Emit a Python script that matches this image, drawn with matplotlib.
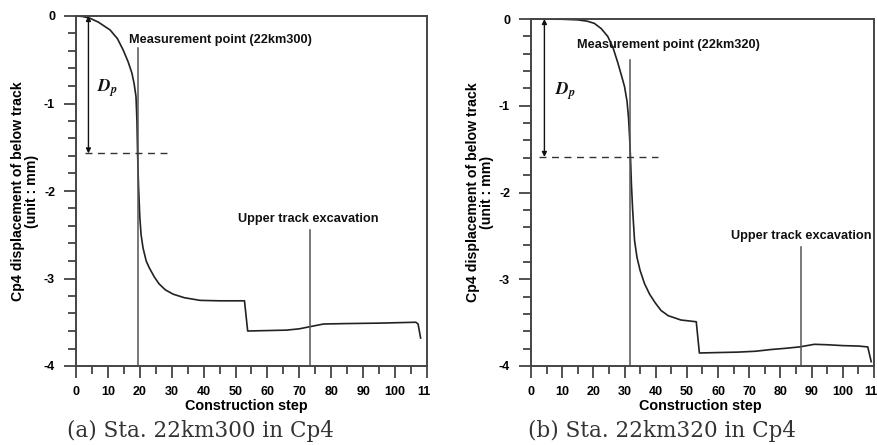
import numpy as np
import matplotlib
matplotlib.use('Agg')
import matplotlib.pyplot as plt
from matplotlib.transforms import ScaledTranslation

# %% data
a_x = [0, 2, 4.4, 7, 10.7, 13, 14.8, 16.3, 17.5, 18.2, 18.8, 19.1, 19.3, 19.6, 20,
       20.4, 21, 22, 23, 24.5, 26, 28, 30.5, 34, 38.9, 45, 52.8, 53.8, 60, 66,
       70, 73.4, 77.6, 85, 95, 106.5, 107.2, 108]
a_y = [0, -0.005, -0.026, -0.07, -0.16, -0.26, -0.39, -0.52, -0.65, -0.77, -0.92,
       -1.2, -1.57, -1.95, -2.3, -2.5, -2.65, -2.8, -2.88, -2.98, -3.06, -3.13,
       -3.18, -3.22, -3.25, -3.255, -3.255, -3.6, -3.595, -3.59, -3.575, -3.55,
       -3.52, -3.515, -3.51, -3.5, -3.52, -3.68]

b_x = [0, 10, 15, 18, 20.3, 22.5, 24.6, 26.3, 27.8, 29, 30, 30.8, 31.3, 31.6, 31.9,
       32.2, 32.6, 33.2, 34, 35, 36.4, 38, 39.8, 41.7, 44, 48.1, 53, 54, 60, 66.3,
       72, 77, 82, 86.1, 88.5, 90.9, 95, 100, 105, 108, 109.1]
b_y = [0, -0.003, -0.01, -0.025, -0.05, -0.11, -0.2, -0.33, -0.5, -0.65, -0.78,
       -0.95, -1.15, -1.35, -1.59, -1.9, -2.2, -2.55, -2.75, -2.9, -3.05, -3.17,
       -3.27, -3.36, -3.42, -3.47, -3.49, -3.85, -3.845, -3.84, -3.83, -3.81,
       -3.795, -3.78, -3.765, -3.75, -3.755, -3.765, -3.77, -3.78, -3.95]

panels = [
    {
        'x': a_x, 'y': a_y,
        'pos': [76 / 878, 79 / 445, 351 / 878, 350 / 445],
        'meas_x': 19.3, 'meas_top': -0.37, 'meas_label': 'Measurement point (22km300)',
        'meas_text': (16.7, -0.27),
        'exc_x': 73.4, 'exc_top': -2.45, 'exc_text': (50.7, -2.32),
        'dp': -1.57, 'dash_x': (2.8, 28.4), 'arrow_x': 3.9, 'dp_text': (6.6, -0.83),
        'caption': '(a) Sta. 22km300 in Cp4', 'cap_x': 200 / 878, 'xlab_x': 0.484,
    },
    {
        'x': b_x, 'y': b_y,
        'pos': [531 / 878, 79 / 445, 343 / 878, 347 / 445],
        'meas_x': 31.9, 'meas_top': -0.47, 'meas_label': 'Measurement point (22km320)',
        'meas_text': (14.8, -0.3),
        'exc_x': 86.6, 'exc_top': -2.63, 'exc_text': (64.2, -2.5),
        'dp': -1.59, 'dash_x': (2.7, 40.6), 'arrow_x': 4.3, 'dp_text': (7.7, -0.83),
        'caption': '(b) Sta. 22km320 in Cp4', 'cap_x': 662 / 878, 'xlab_x': 0.493,
    },
]

xticks = np.arange(0, 111, 10)
# the last label is cut to "11" in the source
xticklabels = [str(v) for v in xticks[:-1]] + ['11']
yticks = [0, -1, -2, -3, -4]

plt.rcParams['font.family'] = 'Liberation Sans'
plt.rcParams['font.weight'] = 'bold'

fig = plt.figure(figsize=(8.78, 4.45), dpi=100)

for p in panels:
    ax = fig.add_axes(p['pos'])
    ax.plot(p['x'], p['y'], color='#222222', lw=1.2)

    # vertical marker lines
    ax.plot([p['meas_x'], p['meas_x']], [p['meas_top'], -4], color='#555555', lw=1.1)
    ax.plot([p['exc_x'], p['exc_x']], [p['exc_top'], -4], color='#555555', lw=1.1)
    ax.text(*p['meas_text'], p['meas_label'], fontsize=9.2, fontweight='bold',
            color='#111111', va='center')
    ax.text(*p['exc_text'], 'Upper track excavation', fontsize=9.2, fontweight='bold',
            color='#111111', va='center')

    # Dp
    ax.plot(p['dash_x'], [p['dp'], p['dp']], color='#333333', lw=1.0, ls=(0, (5, 4)))
    ax.annotate('', xy=(p['arrow_x'], p['dp']), xytext=(p['arrow_x'], 0),
                arrowprops=dict(arrowstyle='<|-|>', color='#111111', lw=1.0,
                                mutation_scale=7, shrinkA=0, shrinkB=0))
    ax.text(*p['dp_text'], r'$D_p$', fontsize=12.5, math_fontfamily='stix',
            color='#111111', va='center')

    ax.set_xlim(0, 110)
    ax.set_ylim(-4, 0)
    ax.set_xticks(xticks)
    ax.set_xticks(np.arange(5, 110, 10), minor=True)
    ax.set_yticks(yticks)
    ax.set_yticks(np.arange(-3.8, 0, 0.2), minor=True)
    ax.set_xticklabels(xticklabels, fontsize=9, fontweight='bold')
    ax.set_yticklabels([str(v) for v in yticks], fontsize=9, fontweight='bold')
    ax.tick_params(which='major', direction='out', length=8.6, width=1.2, color='#333333')
    ax.tick_params(which='minor', direction='out', length=5.5, width=1.2, color='#333333')
    ax.tick_params(axis='x', which='major', pad=6)
    ax.tick_params(axis='y', which='major', pad=6.5)
    last = ax.xaxis.get_major_ticks()[-1].label1
    last.set_transform(last.get_transform() + ScaledTranslation(-3 / 100, 0, fig.dpi_scale_trans))
    for s in ax.spines.values():
        s.set_color('#444444')
        s.set_linewidth(1.4)

    ax.set_xlabel('Construction step', fontsize=10.4, fontweight='bold', labelpad=-1)
    ax.xaxis.set_label_coords(p['xlab_x'], -0.095)
    ax.set_ylabel('Cp4 displacement of below track\n(unit : mm)', fontsize=10.2,
                  fontweight='bold', labelpad=3.5, linespacing=0.95)

    fig.text(p['cap_x'], 0.032, p['caption'], family='DejaVu Serif', fontweight='normal',
             fontsize=15.5, color='#333333', ha='center', va='center')

fig.savefig('out.png', dpi=100)
